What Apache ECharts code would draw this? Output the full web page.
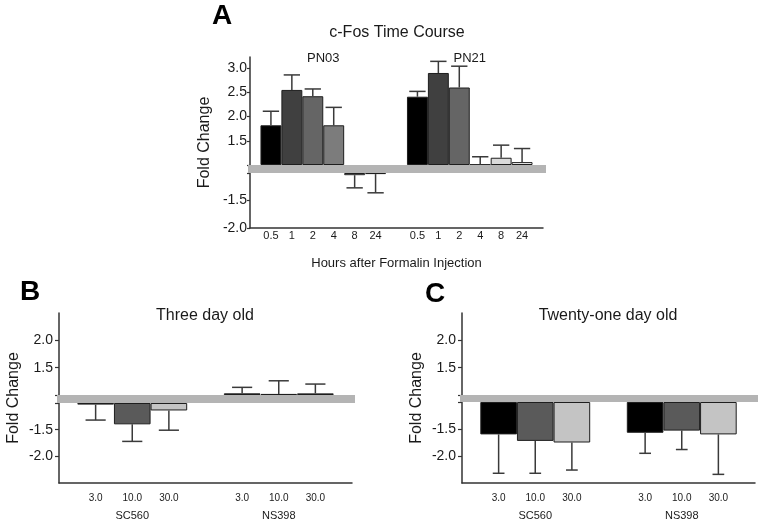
<!DOCTYPE html>
<html><head><meta charset="utf-8">
<script src="https://cdn.jsdelivr.net/npm/echarts@6/dist/echarts.min.js"></script>
<style>html,body{margin:0;padding:0;background:#fff}#c{width:765px;height:526px}</style>
</head><body><div id="c"></div>
<script>
// ---------- data ----------
const timesA = ['0.5', '1', '2', '4', '8', '24'];
const groupsA = ['PN03', 'PN21'];
const foldPN03 = [1.82, 2.55, 2.42, 1.82, -1.04, -1.02];
const semPN03  = [0.29, 0.31, 0.15, 0.37, 0.23, 0.34];
const foldPN21 = [2.41, 2.90, 2.60, 1.01, 1.15, 1.06];
const semPN21  = [0.11, 0.24, 0.44, 0.16, 0.26, 0.28];

const doses = ['3.0', '10.0', '30.0'];
const drugs = ['SC560', 'NS398'];
const foldB_SC560 = [-1.03, -1.40, -1.14];
const semB_SC560  = [0.29, 0.32, 0.37];
const foldB_NS398 = [1.03, 1.02, 1.03];
const semB_NS398  = [0.11, 0.24, 0.17];
const foldC_SC560 = [-1.60, -1.72, -1.75];
const semC_SC560  = [0.72, 0.60, 0.51];
const foldC_NS398 = [-1.57, -1.53, -1.60];
const semC_NS398  = [0.38, 0.35, 0.74];

const tickLabelsA_pos = [1.5, 2.0, 2.5, 3.0];
const tickLabelsA_neg = [-1.5, -2.0];
const tickLabelsBC_pos = [1.5, 2.0];
const tickLabelsBC_neg = [-1.5, -2.0];

const titleA = 'c-Fos Time Course';
const titleB = 'Three day old';
const titleC = 'Twenty-one day old';
const xNameA = 'Hours after Formalin Injection';
const yName = 'Fold Change';

// ---------- styles ----------
const timeColors = ['#000000', '#404040', '#656565', '#7c7c7c', '#dadada', '#f4f4f4'];
const doseColors = ['#000000', '#5a5a5a', '#c4c4c4'];
const FONT = "'Liberation Sans', Arial, sans-serif";
const AXIS_COLOR = '#333';
const TEXT_COLOR = '#1a1a1a';

const panels = [
  { groups: groupsA, cats: timesA, vals: [foldPN03, foldPN21], sems: [semPN03, semPN21], colors: timeColors,
    left: 250, width: 293, upTop: 57, upH: 108, loTop: 173, loH: 55,
    upMin: 1, upMax: 3.23, loMin: -2, loMax: -1,
    posLabels: tickLabelsA_pos, negLabels: tickLabelsA_neg,
    labelMargin: 3, tickLen: 3, catFont: 11, catMargin: 2, capFrac: 0.78,
    xName: xNameA, nameGapX: 29, groupPos: 'top', groupMargin: -8, groupFont: 13 },
  { groups: drugs, cats: doses, vals: [foldB_SC560, foldB_NS398], sems: [semB_SC560, semB_NS398], colors: doseColors,
    left: 59, width: 293, upTop: 313, upH: 82, loTop: 403, loH: 80,
    upMin: 1, upMax: 2.5, loMin: -2.5, loMax: -1,
    posLabels: tickLabelsBC_pos, negLabels: tickLabelsBC_neg,
    labelMargin: 6, tickLen: 4, catFont: 10, catMargin: 10, capFrac: 0.55,
    xName: '', nameGapX: 0, groupPos: 'bottom', groupMargin: 27, groupFont: 11 },
  { groups: drugs, cats: doses, vals: [foldC_SC560, foldC_NS398], sems: [semC_SC560, semC_NS398], colors: doseColors,
    left: 462, width: 293, upTop: 313, upH: 82, loTop: 402, loH: 81,
    upMin: 1, upMax: 2.5, loMin: -2.5, loMax: -1,
    posLabels: tickLabelsBC_pos, negLabels: tickLabelsBC_neg,
    labelMargin: 6, tickLen: 4, catFont: 10, catMargin: 10, capFrac: 0.32,
    xName: '', nameGapX: 0, groupPos: 'bottom', groupMargin: 27, groupFont: 11 }
];

const option = {
  animation: false,
  backgroundColor: '#ffffff',
  textStyle: { fontFamily: FONT },
  title: [
    { text: 'A', left: 212, top: 2, padding: 0, textStyle: { fontSize: 28, fontWeight: 'bold', color: '#000', fontFamily: FONT } },
    { text: 'B', left: 20, top: 278, padding: 0, textStyle: { fontSize: 28, fontWeight: 'bold', color: '#000', fontFamily: FONT } },
    { text: 'C', left: 425, top: 280, padding: 0, textStyle: { fontSize: 28, fontWeight: 'bold', color: '#000', fontFamily: FONT } },
    { text: titleA, left: 397, top: 25, textAlign: 'center', padding: 0, textStyle: { fontSize: 16, fontWeight: 'normal', color: TEXT_COLOR, fontFamily: FONT } },
    { text: titleB, left: 205, top: 308, textAlign: 'center', padding: 0, textStyle: { fontSize: 16, fontWeight: 'normal', color: TEXT_COLOR, fontFamily: FONT } },
    { text: titleC, left: 608, top: 308, textAlign: 'center', padding: 0, textStyle: { fontSize: 16, fontWeight: 'normal', color: TEXT_COLOR, fontFamily: FONT } }
  ],
  grid: [], xAxis: [], yAxis: [], series: []
};

function errRenderer(capFrac) {
  return function (params, api) {
    const x = api.value(0), v = api.value(1), e = api.value(2);
    const end = v >= 0 ? v + e : v - e;
    const p0 = api.coord([x, v]);
    const p1 = api.coord([x, end]);
    const half = api.size([1, 0])[0] * capFrac / 2;
    const st = { stroke: '#3a3a3a', lineWidth: 1.5 };
    return { type: 'group', children: [
      { type: 'line', shape: { x1: p0[0], y1: p0[1], x2: p1[0], y2: p1[1] }, style: st },
      { type: 'line', shape: { x1: p1[0] - half, y1: p1[1], x2: p1[0] + half, y2: p1[1] }, style: st }
    ]};
  };
}

function roundTo(v) { return Math.round(v * 100) / 100; }

panels.forEach(function (p) {
  const g0 = option.grid.length, x0 = option.xAxis.length, y0 = option.yAxis.length;
  const slots = ['pad0'];
  p.groups.forEach(function (g, k) {
    if (k > 0) slots.push('gap' + k);
    p.cats.forEach(function (c) { slots.push(g + '|' + c); });
  });
  slots.push('pad1');
  const catFmt = function (v) { return v.indexOf('|') >= 0 ? v.split('|')[1] : ''; };
  p.slots = slots;

  const common = { left: p.left, width: p.width, outerBoundsMode: 'none', containLabel: false };
  option.grid.push(Object.assign({ top: p.upTop, height: p.loTop + p.loH - p.upTop }, common));
  option.grid.push(Object.assign({ top: p.upTop, height: p.upH }, common));
  option.grid.push(Object.assign({ top: p.loTop, height: p.loH }, common));

  // frame axes
  option.xAxis.push({
    gridIndex: g0, type: 'category', data: slots, boundaryGap: false,
    axisLine: { show: true, lineStyle: { color: AXIS_COLOR, width: 1.5 } },
    axisTick: { show: false },
    axisLabel: { interval: 0, formatter: catFmt, fontSize: p.catFont, margin: p.catMargin, color: TEXT_COLOR },
    splitLine: { show: false },
    name: p.xName, nameLocation: 'middle', nameGap: p.nameGapX,
    nameTextStyle: { fontSize: 13, color: TEXT_COLOR }
  });
  option.xAxis.push({
    gridIndex: g0, type: 'category', data: p.groups, boundaryGap: true, position: p.groupPos,
    axisLine: { show: false }, axisTick: { show: false }, splitLine: { show: false },
    axisLabel: { margin: p.groupMargin, fontSize: p.groupFont, color: TEXT_COLOR, interval: 0 }
  });
  option.xAxis.push({ gridIndex: g0 + 1, type: 'category', data: slots, boundaryGap: false, show: false });
  option.xAxis.push({ gridIndex: g0 + 2, type: 'category', data: slots, boundaryGap: false, show: false });

  option.yAxis.push({
    gridIndex: g0, type: 'value', min: 0, max: 1,
    axisLine: { show: true, lineStyle: { color: AXIS_COLOR, width: 1.5 } },
    axisTick: { show: false }, axisLabel: { show: false }, splitLine: { show: false },
    name: yName, nameLocation: 'middle', nameGap: 37, nameRotate: 90,
    nameTextStyle: { fontSize: 16, color: TEXT_COLOR }
  });
  const mkY = function (gi, min, max, labels, edge) {
    return {
      gridIndex: gi, type: 'value', min: min, max: max, interval: 0.5, startValue: edge,
      axisLine: { show: false },
      axisTick: { show: true, inside: false, length: p.tickLen, customValues: [edge].concat(labels),
                  lineStyle: { color: AXIS_COLOR, width: 1.2 } },
      axisLabel: { customValues: labels, margin: p.labelMargin, fontSize: 14, color: TEXT_COLOR,
                   formatter: function (v) { return labels.indexOf(roundTo(v)) >= 0 ? v.toFixed(1) : ''; } },
      splitLine: { show: false }
    };
  };
  option.yAxis.push(mkY(g0 + 1, p.upMin, p.upMax, p.posLabels, 1));
  option.yAxis.push(mkY(g0 + 2, p.loMin, p.loMax, p.negLabels, -1));

  const upData = [], loData = [], errUp = [], errLo = [];
  slots.forEach(function () { upData.push('-'); loData.push('-'); });
  p.groups.forEach(function (g, k) {
    p.cats.forEach(function (c, j) {
      const idx = 1 + k * (p.cats.length + 1) + j;
      const v = p.vals[k][j], e = p.sems[k][j];
      const item = { value: v, itemStyle: { color: p.colors[j] } };
      if (v > 0) { upData[idx] = item; errUp.push([idx, v, e]); }
      else { loData[idx] = item; errLo.push([idx, v, e]); }
    });
  });
  const barBase = { type: 'bar', barWidth: '100%', clip: true,
    itemStyle: { borderColor: '#1e1e1e', borderWidth: 1 }, emphasis: { disabled: true } };
  option.series.push(Object.assign({ xAxisIndex: x0 + 2, yAxisIndex: y0 + 1, data: upData }, barBase));
  option.series.push(Object.assign({ xAxisIndex: x0 + 3, yAxisIndex: y0 + 2, data: loData }, barBase));
  option.series.push({ type: 'custom', xAxisIndex: x0 + 2, yAxisIndex: y0 + 1, data: errUp,
    encode: { x: 0, y: 1 }, renderItem: errRenderer(p.capFrac), z: 3 });
  option.series.push({ type: 'custom', xAxisIndex: x0 + 3, yAxisIndex: y0 + 2, data: errLo,
    encode: { x: 0, y: 1 }, renderItem: errRenderer(p.capFrac), z: 3 });
  p.xFrame = x0; p.yUp = y0 + 1; p.yLo = y0 + 2;
});

const chart = echarts.init(document.getElementById('c'), null, { renderer: 'canvas' });
chart.setOption(option);

// gray band between +1 and -1, positioned through the axes
const bands = panels.map(function (p) {
  const yTop = chart.convertToPixel({ yAxisIndex: p.yUp }, 1);
  const yBot = chart.convertToPixel({ yAxisIndex: p.yLo }, -1);
  const xL = chart.convertToPixel({ xAxisIndex: p.xFrame }, 0);
  const xR = chart.convertToPixel({ xAxisIndex: p.xFrame }, p.slots.length - 1);
  return { type: 'rect', z: 10, shape: { x: xL - 2, y: yTop, width: xR - xL + 5, height: yBot - yTop },
           style: { fill: '#b4b4b4' } };
});
chart.setOption({ graphic: bands });
</script></body></html>
